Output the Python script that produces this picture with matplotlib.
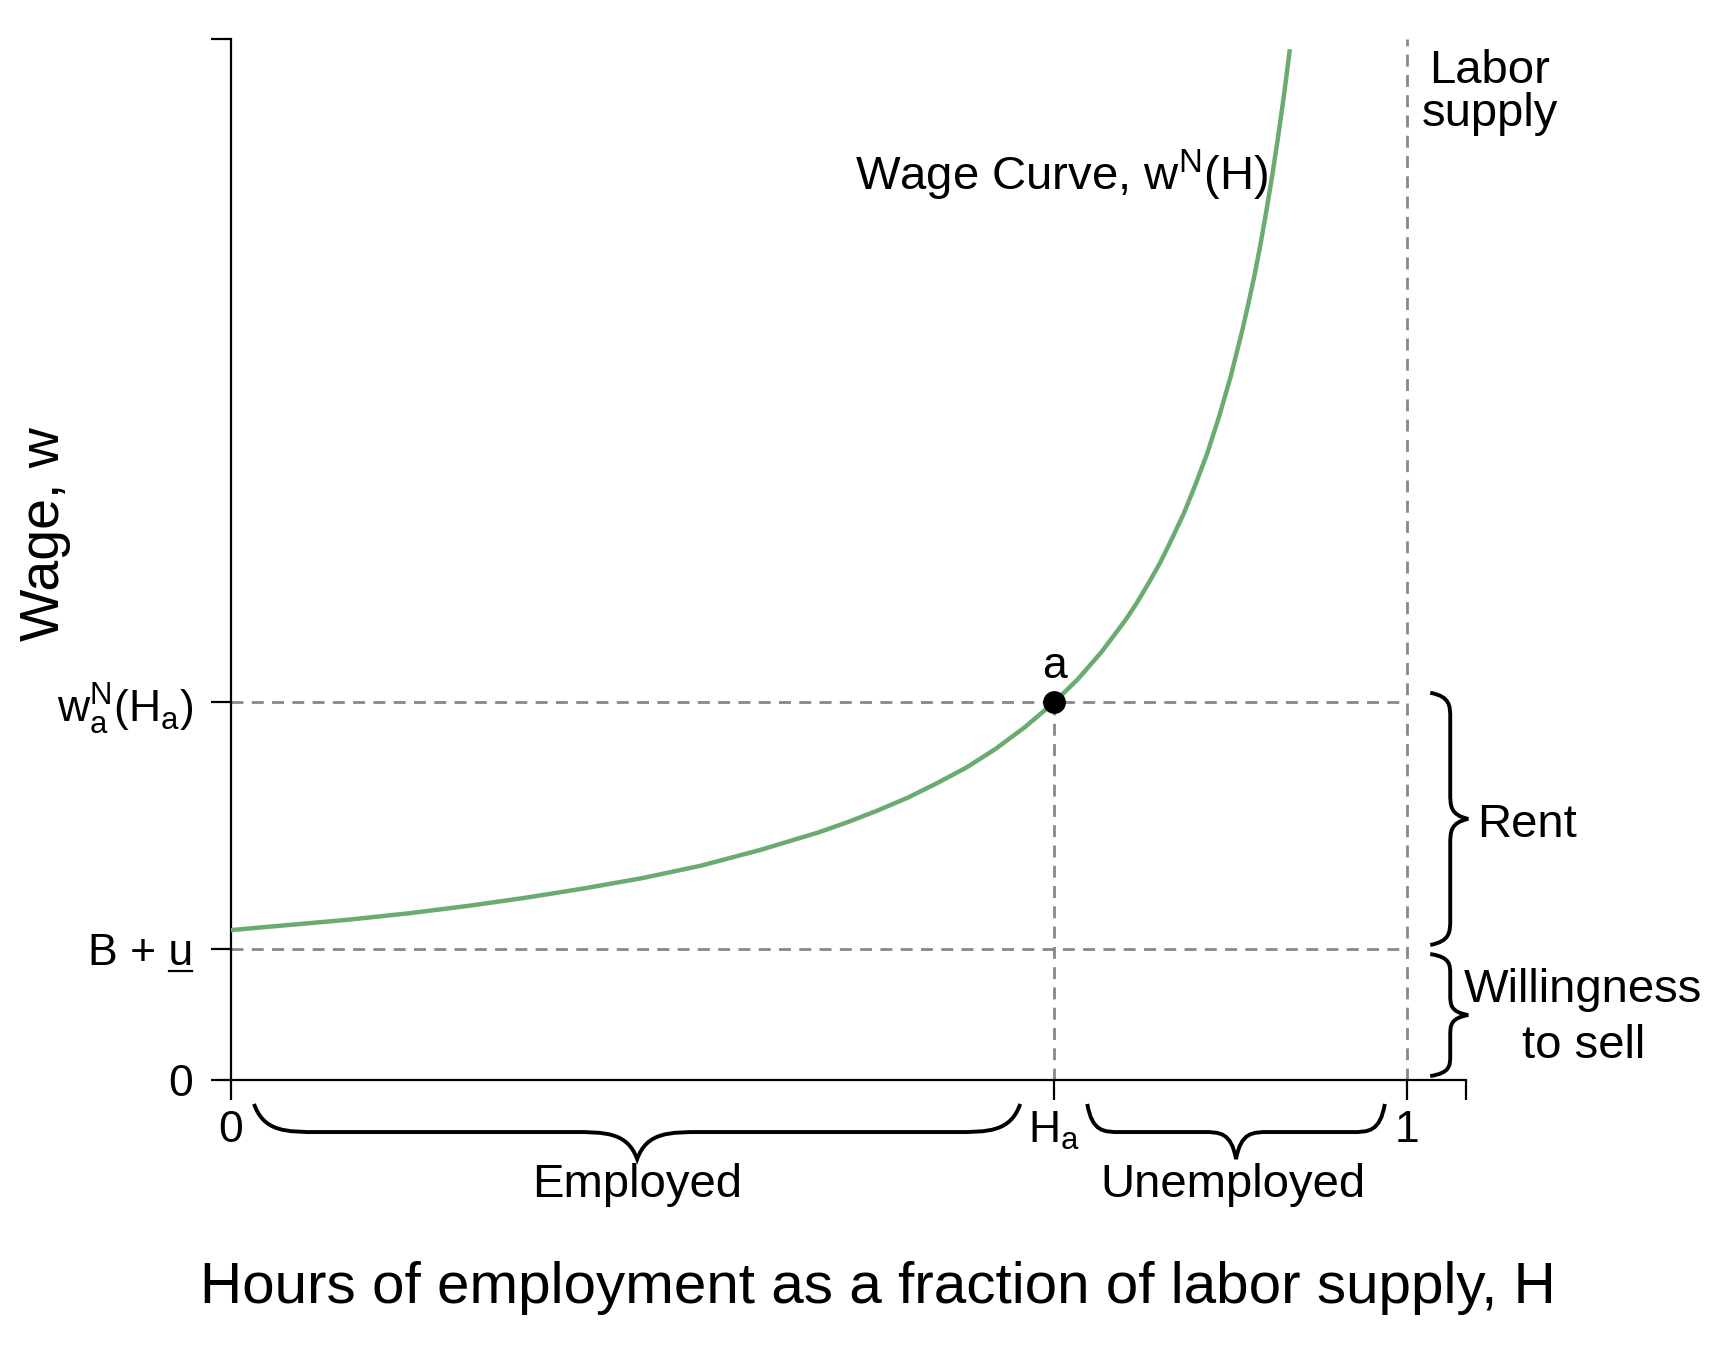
import matplotlib
matplotlib.use('Agg')
import matplotlib.pyplot as plt
from matplotlib.path import Path
from matplotlib.patches import PathPatch
from matplotlib.lines import Line2D

plt.rcParams['font.family'] = ['Liberation Sans', 'DejaVu Sans']
plt.rcParams['mathtext.fontset'] = 'custom'
plt.rcParams['mathtext.rm'] = 'Liberation Sans'
plt.rcParams['mathtext.it'] = 'Liberation Sans'
plt.rcParams['mathtext.bf'] = 'Liberation Sans:bold'

# wage curve (H as fraction of labour supply, w on a 0-1 scale)
hours = [0.00, 0.05, 0.10, 0.15, 0.20, 0.25, 0.30, 0.35, 0.40, 0.45, 0.50, 0.525,
         0.55, 0.575, 0.60, 0.625, 0.65, 0.675, 0.70, 0.71, 0.72, 0.73, 0.74, 0.75,
         0.76, 0.77, 0.78, 0.79, 0.80, 0.81, 0.82, 0.83, 0.84, 0.85, 0.86, 0.865,
         0.87, 0.875, 0.88, 0.885, 0.89, 0.895, 0.90]
wage = [0.144, 0.149, 0.154, 0.160, 0.167, 0.175, 0.184, 0.194, 0.206, 0.221, 0.238, 0.248,
        0.259, 0.271, 0.285, 0.300, 0.318, 0.339, 0.363, 0.374, 0.385, 0.398, 0.411, 0.426,
        0.441, 0.458, 0.477, 0.497, 0.520, 0.544, 0.572, 0.602, 0.637, 0.676, 0.721, 0.746,
        0.772, 0.801, 0.833, 0.867, 0.904, 0.944, 0.988]

h_a = 0.70      # employment at point a
w_a = 0.363     # wage at point a
b_u = 0.1256    # B + u (reservation wage)

green = '#6aac70'
grey = '#888888'


def curly_brace(ax, start, end, e, m, t, r, vertical=False, lw=1.4):
    # along = position along the brace, across = ends (e), spine (m), tip (t)
    c = (start + end) / 2
    pts = [(start, e),
           (start + 0.15 * r, m), (start + 0.5 * r, m), (start + r, m),
           (c - r, m),
           (c - 0.5 * r, m), (c - 0.15 * r, m), (c, t),
           (c + 0.15 * r, m), (c + 0.5 * r, m), (c + r, m),
           (end - r, m),
           (end - 0.5 * r, m), (end - 0.15 * r, m), (end, e)]
    codes = [Path.MOVETO] + [Path.CURVE4] * 3 + [Path.LINETO] + [Path.CURVE4] * 6 \
        + [Path.LINETO] + [Path.CURVE4] * 3
    if vertical:
        pts = [(b, a) for a, b in pts]
    patch = PathPatch(Path(pts, codes), facecolor='none', edgecolor='black',
                      lw=lw, clip_on=False, capstyle='butt')
    ax.add_patch(patch)


fig = plt.figure(figsize=(8.68, 6.75), dpi=200)
ax = fig.add_axes([231 / 1736, 270 / 1350, 1235 / 1736, 1041 / 1350])
ax.set_xlim(0, 1.05)
ax.set_ylim(0, 1.0)

for side in ['top', 'right']:
    ax.spines[side].set_visible(False)
for side in ['left', 'bottom']:
    ax.spines[side].set_linewidth(0.8)

dash = (0, (4.3, 3.0))
ax.plot([0, 1], [w_a, w_a], color=grey, lw=1.0, ls=dash, zorder=1)
ax.plot([0, 1], [b_u, b_u], color=grey, lw=1.0, ls=dash, zorder=1)
ax.plot([h_a, h_a], [0, w_a], color=grey, lw=1.0, ls=dash, zorder=1)
ax.plot([1, 1], [0, 1], color=grey, lw=1.0, ls=dash, zorder=1)

ax.plot(hours, wage, color=green, lw=1.6, zorder=3)
ax.plot(h_a, w_a, 'o', color='black', markersize=7.2, zorder=5)
ax.text(h_a, 0.386, 'a', fontsize=16, ha='center', va='baseline')

ax.set_xticks([0, h_a, 1, 1.05])
ax.set_xticklabels(['0', r'$\mathrm{H_a}$', '1', ''])
ax.set_yticks([0, b_u, w_a, 1.0])
ax.set_yticklabels(['0', 'B + u', r'$\mathrm{w_a^N(H_a)}$', ''])
ax.tick_params(direction='out', length=7.2, width=0.8, labelsize=16)
ax.tick_params(axis='y', pad=6.5)
ax.tick_params(axis='x', pad=3.5)

ax.text(0.882, 0.855, r'Wage Curve, $\mathrm{w^N(H)}$', fontsize=17,
        ha='right', va='baseline')
ax.text(1.070, 0.958, 'Labor', fontsize=17, ha='center', va='baseline', clip_on=False)
ax.text(1.070, 0.916, 'supply', fontsize=17, ha='center', va='baseline', clip_on=False)

# braces under the x axis
curly_brace(ax, 0.0196, 0.671, -0.023, -0.050, -0.076, 0.055)
curly_brace(ax, 0.728, 0.981, -0.023, -0.050, -0.076, 0.028)
ax.text(0.345, -0.1124, 'Employed', fontsize=17, ha='center', va='baseline')
ax.text(0.852, -0.1124, 'Unemployed', fontsize=17, ha='center', va='baseline')

# braces right of the labour supply line
curly_brace(ax, 0.1297, 0.372, 1.0196, 1.0366, 1.0519, 0.025, vertical=True)
curly_brace(ax, 0.0038, 0.121, 1.0196, 1.0366, 1.0519, 0.02, vertical=True)
ax.text(1.0595, 0.2334, 'Rent', fontsize=17, ha='left', va='baseline', clip_on=False)
ax.text(1.1497, 0.0749, 'Willingness', fontsize=17, ha='center', va='baseline', clip_on=False)
ax.text(1.1497, 0.0211, 'to sell', fontsize=17, ha='center', va='baseline', clip_on=False)

fig.text(878 / 1736, 1 - 1303 / 1350, 'Hours of employment as a fraction of labor supply, H',
         fontsize=21, ha='center', va='baseline')
fig.text(59 / 1736, 1 - 534 / 1350, 'Wage, w', fontsize=20, rotation=90,
         rotation_mode='anchor', ha='center', va='baseline')

# underline the u in "B + u"
fig.canvas.draw()
renderer = fig.canvas.get_renderer()
lab = ax.get_yticklabels()[1]
bb = lab.get_window_extent(renderer)
tmp = fig.text(0, 0, 'u', fontsize=16)
uw = tmp.get_window_extent(renderer).width
tmp.remove()
fs_px = 16 * fig.dpi / 72
y_line = bb.y0 + 0.21 * fs_px - 6
W, H = fig.bbox.width, fig.bbox.height
fig.add_artist(Line2D([(bb.x1 - uw + 1) / W, (bb.x1 - 1) / W], [y_line / H, y_line / H],
                      transform=fig.transFigure, color='black', lw=0.8))

fig.savefig('out.png', dpi=200)
